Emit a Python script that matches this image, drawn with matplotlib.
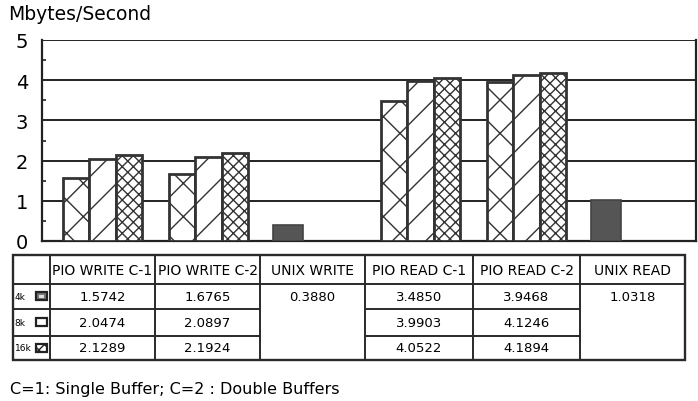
import matplotlib
matplotlib.use("Agg")
import matplotlib.pyplot as plt
from matplotlib.patches import Rectangle

# ---------------- data ----------------
categories = ["PIO WRITE C-1", "PIO WRITE C-2", "UNIX WRITE",
              "PIO READ C-1", "PIO READ C-2", "UNIX READ"]
sizes = ["4k", "8k", "16k"]
values_4k = [1.5742, 1.6765, 0.3880, 3.4850, 3.9468, 1.0318]
values_8k = [2.0474, 2.0897, None, 3.9903, 4.1246, None]
values_16k = [2.1289, 2.1924, None, 4.0522, 4.1894, None]
yticks = [0, 1, 2, 3, 4, 5]
footnote = "C=1: Single Buffer; C=2 : Double Buffers"
ylabel = "Mbytes/Second"

series = [values_4k, values_8k, values_16k]
hatches = ["x", "/", "xxx"]
offsets = [-0.25, 0.0, 0.25]

W, H = 698, 402
plt.rcParams["font.family"] = ["DejaVu Sans"]
plt.rcParams["hatch.linewidth"] = 1.0
fig = plt.figure(figsize=(W / 100, H / 100), dpi=100)

EDGE = "#333333"
ax_l, ax_r, ax_t, ax_b = 42, 696, 41, 242
ax = fig.add_axes([ax_l / W, 1 - ax_b / H, (ax_r - ax_l) / W, (ax_b - ax_t) / H])
ax.set_xlim(-0.571, 5.599)
ax.set_ylim(0, 5)

for si, vals in enumerate(series):
    for ci, v in enumerate(vals):
        if v is None:
            continue
        single = values_8k[ci] is None
        if single:
            ax.bar(ci + offsets[0], v, width=0.28, color="#555555",
                   edgecolor="#444444", linewidth=1.2, zorder=3)
        else:
            ax.bar(ci + offsets[si], v, width=0.25, color="white",
                   edgecolor=EDGE, hatch=hatches[si], linewidth=2.0, zorder=3)

for y in yticks[1:]:
    ax.axhline(y, color="#222222", lw=1.4, zorder=1)
ax.set_yticks(yticks)
ax.set_yticklabels([str(t) for t in yticks], fontsize=14)
ax.set_yticks([0.5, 1.5, 2.5, 3.5, 4.5], minor=True)
ax.tick_params(axis="y", which="major", length=0, pad=10)
ax.tick_params(axis="y", which="minor", length=3, direction="in", width=1.2, color="#222222")
ax.set_xticks([])
for s in ax.spines.values():
    s.set_linewidth(1.6)
    s.set_color("#222222")
ax.spines["top"].set_visible(False)

fig.text(8 / W, 1 - 14 / H, ylabel, fontsize=13.5, va="center", ha="left")

# ---------------- table (overlay in pixel coords) ----------------
tx = fig.add_axes([0, 0, 1, 1], zorder=5)
tx.set_xlim(0, W)
tx.set_ylim(H, 0)
tx.axis("off")

col_edges = [13, 50, 155, 260, 365, 473, 580, 685]
row_edges = [256, 285, 310, 337, 361]
LC = "#2a2a2a"

tx.add_patch(Rectangle((col_edges[0], row_edges[0]), col_edges[-1] - col_edges[0],
                       row_edges[-1] - row_edges[0], fill=False, lw=1.7, ec=LC))
for x in col_edges[1:-1]:
    tx.plot([x, x], [row_edges[0], row_edges[-1]], color=LC, lw=1.4)
tx.plot([col_edges[0], col_edges[-1]], [row_edges[1], row_edges[1]], color=LC, lw=1.4)
for r in row_edges[2:-1]:
    for ci in range(len(categories)):
        if values_8k[ci] is None:
            continue
        tx.plot([col_edges[ci + 1], col_edges[ci + 2]], [r, r], color=LC, lw=1.4)
    tx.plot([col_edges[0], col_edges[1]], [r, r], color=LC, lw=1.4)

for ci, cat in enumerate(categories):
    xc = (col_edges[ci + 1] + col_edges[ci + 2]) / 2
    yc = (row_edges[0] + row_edges[1]) / 2
    tx.text(xc, yc + 1, cat, fontsize=10, ha="center", va="center")

swatch_faces = ["#777777", "white", "white"]
swatch_hatch = [None, None, "xxx"]
for ri, (lab, vals) in enumerate(zip(sizes, series)):
    yc = (row_edges[ri + 1] + row_edges[ri + 2]) / 2
    tx.text(col_edges[0] + 1.5, yc, lab, fontsize=6.5, ha="left", va="center")
    tx.add_patch(Rectangle((36, yc - 4.5), 11, 8, facecolor=swatch_faces[ri],
                           edgecolor="#222222", hatch=swatch_hatch[ri], lw=1.6))
    if ri == 0:
        tx.add_patch(Rectangle((39, yc - 2), 5, 3, facecolor="#dddddd", edgecolor="none"))
    for ci, v in enumerate(vals):
        if v is None:
            continue
        xc = (col_edges[ci + 1] + col_edges[ci + 2]) / 2
        tx.text(xc, yc, f"{v:.4f}", fontsize=9.5, ha="center", va="center")

tx.text(10, 390, footnote, fontsize=11.5, ha="left", va="center")

fig.savefig("out.png", dpi=100)
